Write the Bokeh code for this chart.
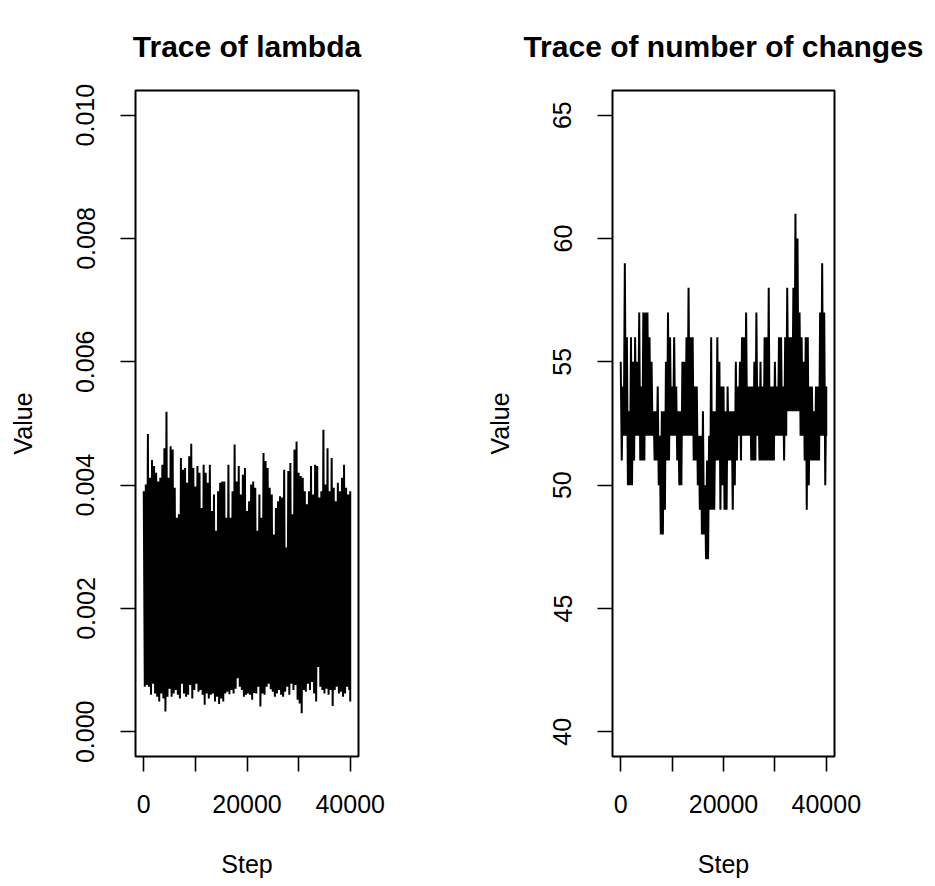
from bokeh.plotting import figure
from bokeh.layouts import row
from bokeh.models import Range1d, FixedTicker, PrintfTickFormatter
from bokeh.embed import file_html
from bokeh.resources import INLINE

# MCMC step index of each sampled column (x)
steps = [0, 400, 800, 1200, 1600, 2000, 2400, 2800, 3200, 3600,
         4000, 4400, 4800, 5200, 5600, 6000, 6400, 6800, 7200, 7600,
         8000, 8400, 8800, 9200, 9600, 10000, 10400, 10800, 11200, 11600,
         12000, 12400, 12800, 13200, 13600, 14000, 14400, 14800, 15200, 15600,
         16000, 16400, 16800, 17200, 17600, 18000, 18400, 18800, 19200, 19600,
         20000, 20400, 20800, 21200, 21600, 22000, 22400, 22800, 23200, 23600,
         24000, 24400, 24800, 25200, 25600, 26000, 26400, 26800, 27200, 27600,
         28000, 28400, 28800, 29200, 29600, 30000, 30400, 30800, 31200, 31600,
         32000, 32400, 32800, 33200, 33600, 34000, 34400, 34800, 35200, 35600,
         36000, 36400, 36800, 37200, 37600, 38000, 38400, 38800, 39200, 39600,
         40000]

# lambda trace: highest and lowest value reached around each step (x 1e-3)
lambda_hi = [3.90, 4.01, 4.83, 4.12, 4.41, 4.31, 4.20, 4.06, 4.12, 4.33,
             4.60, 5.19, 4.12, 4.63, 4.58, 3.96, 3.47, 3.53, 4.44, 4.25,
             4.28, 4.04, 4.47, 4.67, 4.28, 3.98, 4.31, 4.20, 3.63, 4.33,
             4.20, 4.04, 4.33, 3.58, 3.85, 3.26, 3.90, 4.04, 4.06, 4.06,
             3.47, 4.33, 3.47, 3.90, 4.66, 4.06, 4.31, 3.85, 4.17, 4.28,
             3.58, 3.74, 4.01, 4.06, 3.96, 3.26, 3.85, 3.47, 4.52, 4.39,
             4.28, 3.96, 3.85, 3.20, 3.63, 3.74, 3.82, 3.80, 4.25, 2.99,
             4.23, 4.36, 3.53, 4.58, 4.71, 4.20, 4.15, 4.12, 3.90, 3.69,
             3.90, 4.31, 3.85, 4.33, 4.31, 3.80, 3.90, 4.90, 4.01, 4.60,
             3.90, 4.44, 3.96, 3.74, 4.04, 3.90, 4.12, 4.33, 3.96, 3.85,
             3.90]
lambda_lo = [0.73, 0.76, 0.73, 0.60, 0.78, 0.62, 0.57, 0.49, 0.62, 0.54,
             0.33, 0.57, 0.70, 0.57, 0.62, 0.68, 0.60, 0.54, 0.78, 0.62,
             0.57, 0.60, 0.76, 0.54, 0.68, 0.78, 0.65, 0.68, 0.60, 0.44,
             0.62, 0.54, 0.60, 0.62, 0.49, 0.57, 0.45, 0.54, 0.49, 0.62,
             0.65, 0.61, 0.68, 0.62, 0.70, 0.87, 0.73, 0.68, 0.57, 0.60,
             0.62, 0.60, 0.52, 0.63, 0.62, 0.73, 0.41, 0.62, 0.60, 0.73,
             0.78, 0.69, 0.65, 0.57, 0.62, 0.68, 0.60, 0.57, 0.65, 0.73,
             0.60, 0.78, 0.68, 0.76, 0.52, 0.46, 0.30, 0.68, 0.65, 0.78,
             0.68, 0.81, 0.62, 0.49, 1.05, 0.73, 0.68, 0.62, 0.70, 0.60,
             0.68, 0.42, 0.68, 0.73, 0.62, 0.65, 0.57, 0.62, 0.73, 0.68,
             0.49]

# number of changes trace: highest and lowest value around each step
changes_hi = [55, 54, 59, 56, 53, 56, 55, 56, 55, 57,
              54, 57, 57, 57, 56, 55, 53, 53, 54, 52,
              53, 53, 55, 57, 56, 54, 56, 54, 53, 53,
              55, 55, 56, 58, 56, 56, 54, 54, 52, 52,
              53, 50, 51, 52, 56, 53, 53, 56, 55, 54,
              54, 53, 54, 53, 53, 53, 55, 54, 55, 56,
              56, 57, 54, 54, 54, 55, 57, 54, 55, 54,
              56, 56, 58, 54, 54, 55, 54, 56, 56, 54,
              56, 58, 56, 56, 58, 61, 60, 57, 56, 55,
              56, 56, 54, 54, 53, 54, 54, 57, 59, 57,
              54]
changes_lo = [51, 52, 52, 50, 50, 50, 51, 52, 52, 51,
              51, 51, 52, 52, 52, 52, 51, 51, 50, 48,
              48, 49, 51, 51, 52, 52, 52, 51, 50, 50,
              52, 52, 52, 52, 52, 51, 51, 50, 49, 48,
              48, 47, 47, 49, 49, 49, 51, 51, 49, 50,
              49, 49, 51, 51, 49, 50, 51, 52, 51, 52,
              52, 52, 52, 51, 51, 51, 52, 51, 51, 51,
              51, 51, 51, 51, 51, 52, 52, 52, 52, 51,
              52, 53, 53, 53, 53, 53, 53, 52, 52, 51,
              49, 50, 51, 51, 51, 51, 51, 52, 52, 50,
              52]

titles = ["Trace of lambda", "Trace of number of changes"]
x_ticks = [0, 10000, 20000, 30000, 40000]
x_tick_labels = {0: "0", 10000: "", 20000: "20000", 30000: "", 40000: "40000"}
lambda_ticks = [0.0, 0.002, 0.004, 0.006, 0.008, 0.010]
changes_ticks = [40, 45, 50, 55, 60, 65]

FONT = "Liberation Sans"
FRAME_H = 666
X_LO, X_HI = -1600, 41600


def trace(hi, lo, scale=1.0):
    xs, ys = [], []
    for s, h, l in zip(steps, hi, lo):
        xs += [s, min(s + 200, steps[-1])]
        ys += [h * scale, l * scale]
    return xs, ys


def make_fig(title, ylo, yhi, ticks, fmt, left, right, fw):
    p = figure(frame_width=fw, frame_height=FRAME_H,
               x_range=Range1d(X_LO, X_HI), y_range=Range1d(ylo, yhi),
               output_backend="svg", toolbar_location=None,
               min_border_left=left, min_border_right=right,
               min_border_top=90, min_border_bottom=130,
               x_axis_label="Step", y_axis_label="Value",
               background_fill_color="white", border_fill_color="white")
    p.title.text = title
    p.title.align = "center"
    p.title.vertical_align = "top"
    p.title.text_font = FONT
    p.title.text_font_size = "30px"
    p.title.text_font_style = "bold"
    p.title.text_color = "black"
    p.title.standoff = 52
    p.xgrid.visible = False
    p.ygrid.visible = False
    p.outline_line_color = "black"
    p.outline_line_width = 2
    p.outline_line_alpha = 1.0
    for ax in (p.xaxis[0], p.yaxis[0]):
        ax.axis_line_color = None
        ax.major_tick_line_color = "black"
        ax.major_tick_line_width = 1.6
        ax.major_tick_out = 15
        ax.major_tick_in = 0
        ax.minor_tick_line_color = None
        ax.major_label_text_font = FONT
        ax.major_label_text_font_size = "25px"
        ax.major_label_text_color = "black"
        ax.axis_label_text_font = FONT
        ax.axis_label_text_font_size = "25px"
        ax.axis_label_text_font_style = "normal"
        ax.axis_label_text_color = "black"
    p.xaxis[0].ticker = FixedTicker(ticks=x_ticks)
    p.xaxis[0].major_label_overrides = x_tick_labels
    p.xaxis[0].major_label_standoff = 23
    p.xaxis[0].axis_label_standoff = 34
    p.yaxis[0].ticker = FixedTicker(ticks=ticks)
    p.yaxis[0].formatter = PrintfTickFormatter(format=fmt)
    p.yaxis[0].major_label_orientation = "parallel"
    p.yaxis[0].major_label_standoff = 26
    p.yaxis[0].axis_label_standoff = 37
    return p


p1 = make_fig(titles[0], -0.0004, 0.0104, lambda_ticks, "%.3f", 135, 109, 223)
x1, y1 = trace(lambda_hi, lambda_lo, 0.001)
p1.line(x1, y1, line_color="black", line_width=2)

p2 = make_fig(titles[1], 39, 66, changes_ticks, "%d", 145, 101, 222)
x2, y2 = trace(changes_hi, changes_lo)
p2.line(x2, y2, line_color="black", line_width=2)

layout = row(p1, p2, spacing=0)
open("out.html", "w").write(file_html(layout, INLINE))
